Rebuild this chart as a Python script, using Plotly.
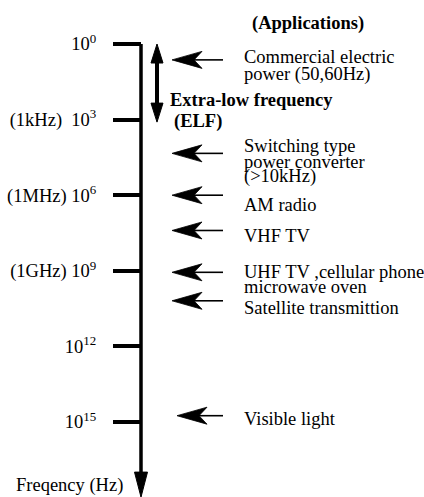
import plotly.graph_objects as go

# ---------------- data ----------------
tick_exponents = [0, 3, 6, 9, 12, 15]
tick_prefixes = ["", "(1kHz)\u00a0\u00a0", "(1MHz)\u00a0", "(1GHz)\u00a0", "", ""]

app_lines = [
    ["Commercial electric", "power (50,60Hz)"],
    ["Switching type", "power converter", "(>10kHz)"],
    ["AM radio"],
    ["VHF TV"],
    ["UHF TV ,cellular phone", "microwave oven"],
    ["Satellite transmittion"],
    ["Visible light"],
]
app_exponents = [0.63, 4.34, 6.0, 7.4, 9.06, 10.19, 14.75]

elf_range = [0, 3.1]          # extent of the ELF band (decades)
axis_end_exponent = 17.98     # arrow tip of frequency axis

# ---------------- layout constants (pixels) ----------------
W, H = 424, 497
TOP = 44.0            # pixel row of 10^0
PPD = 25.2            # pixels per decade
AXIS_X = 141
FONT = "Liberation Serif"
FS = 18.5

# text line pixel offsets from each arrow's row
line_offsets = [[-3, 15], [-7, 9, 23], [10], [6], [0, 15], [7], [3]]
arrow_head_x = [172, 172, 172, 172, 172, 172, 177]
arrow_tail_x = 223
text_x = 242
HEAD_LEN, HEAD_HALF, NOTCH = 30, 8.5, 22


def px(e_pixels):
    """convert a pixel offset to decades"""
    return e_pixels / PPD


fig = go.Figure()

# main frequency axis line
fig.add_trace(go.Scatter(
    x=[AXIS_X, AXIS_X], y=[0, axis_end_exponent - px(22)],
    mode="lines", line=dict(color="black", width=3.5),
    hoverinfo="skip"))
# axis arrowhead
tip = axis_end_exponent
fig.add_trace(go.Scatter(
    x=[AXIS_X - 6.5, AXIS_X + 6.5, AXIS_X, AXIS_X - 6.5],
    y=[tip - px(25), tip - px(25), tip, tip - px(25)],
    mode="lines", fill="toself", fillcolor="black",
    line=dict(color="black", width=1), hoverinfo="skip"))

# ELF double arrow
EX = 157
fig.add_trace(go.Scatter(
    x=[EX, EX], y=[elf_range[0] + px(15), elf_range[1] - px(15)],
    mode="lines", line=dict(color="black", width=4), hoverinfo="skip"))
for t, d in [(elf_range[0], 1), (elf_range[1], -1)]:
    b = t + d * px(19)
    fig.add_trace(go.Scatter(
        x=[EX - 6, EX + 6, EX, EX - 6], y=[b, b, t, b],
        mode="lines", fill="toself", fillcolor="black",
        line=dict(color="black", width=1), hoverinfo="skip"))

# application arrows: shafts + stealth heads
sx, sy, hxs, hys = [], [], [], []
for e, hx in zip(app_exponents, arrow_head_x):
    sx += [hx + NOTCH - 2, arrow_tail_x, None]
    sy += [e, e, None]
    hxs += [hx, hx + HEAD_LEN, hx + NOTCH, hx + HEAD_LEN, hx, None]
    hys += [e, e - px(HEAD_HALF), e, e + px(HEAD_HALF), e, None]
fig.add_trace(go.Scatter(x=sx, y=sy, mode="lines",
                         line=dict(color="black", width=1.6), hoverinfo="skip"))
fig.add_trace(go.Scatter(x=hxs, y=hys, mode="lines", fill="toself",
                         fillcolor="black", line=dict(color="black", width=0.8),
                         hoverinfo="skip"))

annotations = []
for lines, e, offs in zip(app_lines, app_exponents, line_offsets):
    for ln, o in zip(lines, offs):
        annotations.append(dict(
            x=text_x, y=e + px(o), xref="x", yref="y", text=ln,
            showarrow=False, xanchor="left", yanchor="middle",
            font=dict(family=FONT, size=FS, color="black")))

annotations += [
    dict(x=308, y=px(23 - TOP), text="<b>(Applications)</b>"),
    dict(x=168, y=px(100 - TOP), text="<b>Extra-low frequency</b>", xanchor="left"),
    dict(x=172, y=px(121 - TOP), text="<b>(ELF)</b>", xanchor="left"),
    dict(x=14, y=px(485 - TOP), text="Freqency (Hz)", xanchor="left"),
]
for a in annotations[-4:]:
    a.update(xref="x", yref="y", showarrow=False, yanchor="middle",
             font=dict(family=FONT, size=FS, color="black"))
    a.setdefault("xanchor", "center")

fig.update_layout(
    width=W, height=H, margin=dict(l=0, r=0, t=0, b=0, autoexpand=False),
    paper_bgcolor="white", plot_bgcolor="white", showlegend=False,
    annotations=annotations,
    xaxis=dict(range=[0, W], visible=False, domain=[0, 1], automargin=False),
    yaxis=dict(
        range=[px(H - TOP), px(-TOP)],
        anchor="free", position=AXIS_X / W, side="left", automargin=False,
        tickvals=tick_exponents,
        ticktext=[p + "10<sup>%d</sup>" % e for p, e in zip(tick_prefixes, tick_exponents)],
        ticks="outside", ticklen=28, tickwidth=3.5, tickcolor="black",
        ticklabelstandoff=13,
        showline=False, showgrid=False, zeroline=False,
        tickfont=dict(family=FONT, size=FS, color="black"),
    ),
)

fig.write_html(
    "out.html",
    config={"displayModeBar": False},
    post_script="document.body.style.margin='0px';document.body.style.overflow='hidden';",
)
